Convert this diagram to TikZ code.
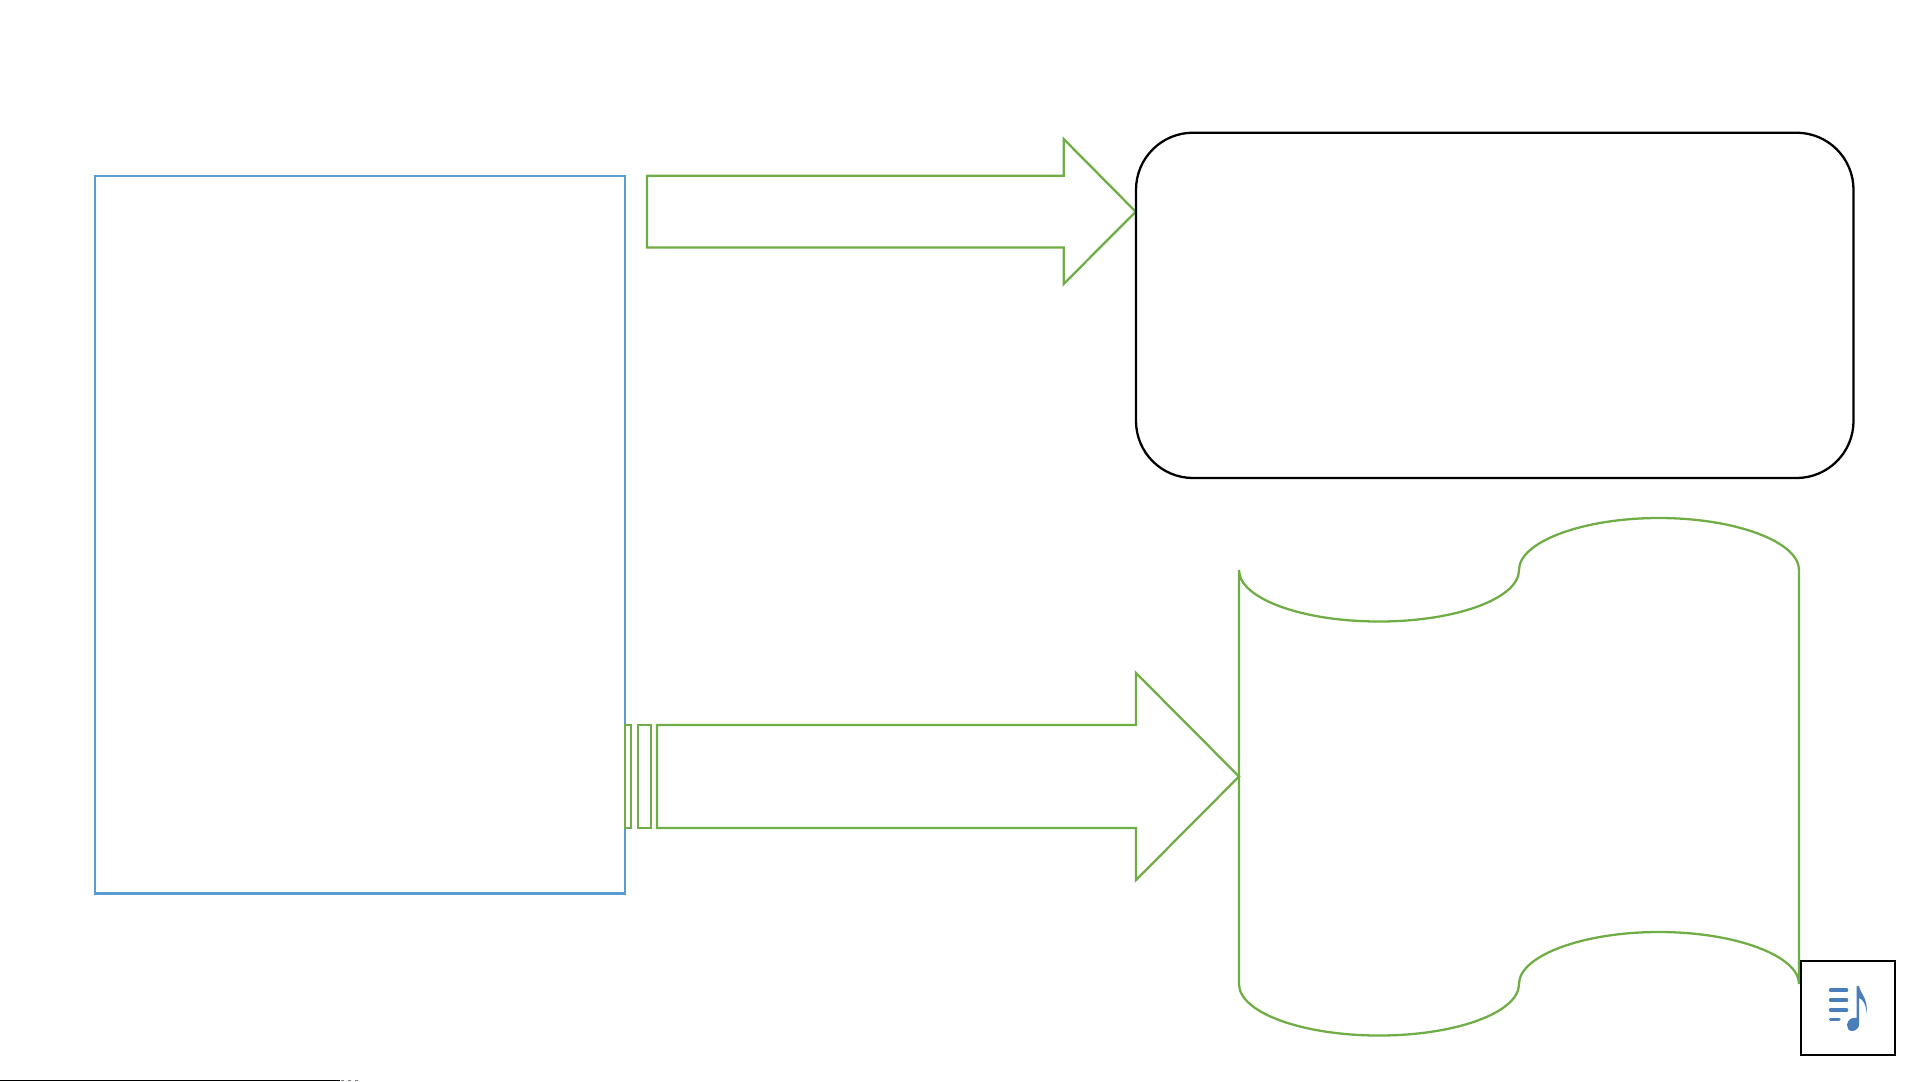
\documentclass[tikz,border=0pt]{standalone}
\usepackage{tikz}
\usetikzlibrary{
    calc
}
\definecolor{arrowgreen}{HTML}{70AD47}
\definecolor{boxblue}{HTML}{5B9BD5}
\definecolor{iconblue}{HTML}{4A7EBB}
\tikzset{
    every picture/.style = {
        line width = 0.65pt
    },
    greenline/.style = {
        draw = arrowgreen,
        line join = miter
    },
    bluebox/.style = {
        draw = boxblue
    },
    blackbox/.style = {
        draw = black
    },
    iconbar/.style = {
        draw = iconblue,
        line width = 1pt,
        line cap = round
    }
}

\begin{document}
\begin{tikzpicture}[x = 0.01cm, y = -0.01cm]

    \useasboundingbox (0, 0) rectangle (1921, 1081);

    \path[bluebox] (95, 175.7) rectangle (625, 893.5);

    \path[greenline] (647, 175.7) -- (1063.7, 175.7) -- (1063.7, 139) -- (1135.7, 211.7) -- (1063.7, 284) -- (1063.7, 247.5) -- (647, 247.5) -- cycle;

    \path[blackbox, rounded corners = 0.57cm] (1136, 132.7) rectangle (1853.5, 478);

    \path[greenline] (625, 725) rectangle (631, 828);
    \path[greenline] (638, 725) rectangle (651, 828);
    \path[greenline] (657, 725) -- (1136, 725) -- (1136, 673) -- (1239, 776.5) -- (1136, 880) -- (1136, 828) -- (657, 828) -- cycle;

    \path[greenline] (1239, 570)
        .. controls (1239, 598.5) and (1302, 621.5) .. (1379, 621.5)
        .. controls (1456, 621.5) and (1519, 598.5) .. (1519, 570)
        .. controls (1519, 542) and (1582, 518) .. (1659, 518)
        .. controls (1736, 518) and (1799, 542) .. (1799, 570)
        -- (1799, 984)
        .. controls (1799, 956) and (1736, 932) .. (1659, 932)
        .. controls (1582, 932) and (1519, 956) .. (1519, 984)
        .. controls (1519, 1012.5) and (1456, 1035.5) .. (1379, 1035.5)
        .. controls (1302, 1035.5) and (1239, 1012.5) .. (1239, 984)
        -- cycle;

    \path[blackbox, fill = white] (1801, 961) rectangle (1895, 1055);

    % icon
    \path[iconbar] (1830.5, 990) -- (1846.5, 990);
    \path[iconbar] (1830.5, 1000) -- (1846.5, 1000);
    \path[iconbar] (1830.5, 1010) -- (1846.5, 1010);
    \path[iconbar] (1830.5, 1019.3) -- (1839, 1019.3);
    \fill[iconblue] (1856.7, 986) -- (1859, 986) .. controls (1860, 993) and (1868, 998) .. (1866.7, 1013) .. controls (1866, 1004) and (1863, 1000) .. (1859.2, 998) -- (1859.2, 1024) .. controls (1859.2, 1028) and (1855.5, 1031) .. (1852, 1031) .. controls (1848.5, 1031) and (1847, 1028) .. (1847, 1025) .. controls (1847, 1020) and (1852.5, 1016.5) .. (1856.7, 1018) -- cycle;

    \fill[black] (0, 1079.6) rectangle (340, 1081);
    \path[draw = gray, line width = 0.28pt, dash pattern = on 0.8pt off 1.2pt] (341, 1080.5) -- (358, 1080.5);

\end{tikzpicture}
\end{document}
